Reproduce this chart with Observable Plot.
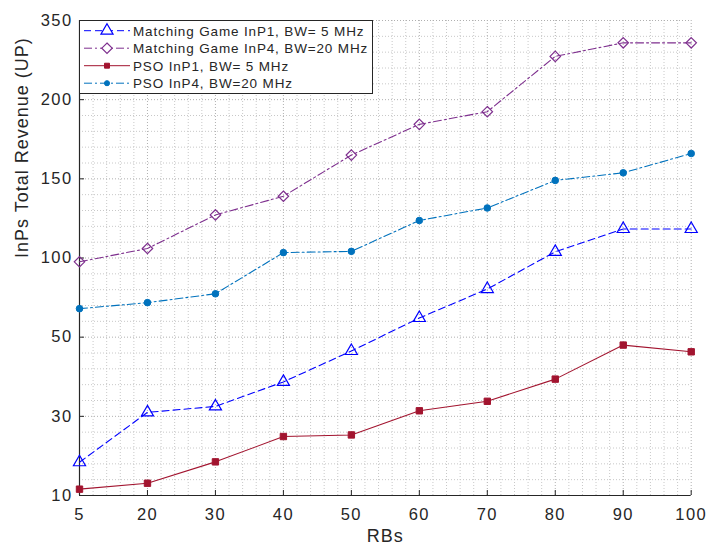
<!DOCTYPE html>
<html>
<head>
<meta charset="utf-8">
<script src="https://cdn.jsdelivr.net/npm/d3@7"></script>
<script src="https://cdn.jsdelivr.net/npm/@observablehq/plot@0.6"></script>
<style>
  body { margin: 0; background: #fff; }
  #chart { position: relative; width: 706px; height: 545px; }
  #legend { position: absolute; left: 79px; top: 20px; }
</style>
</head>
<body>
<div id="chart"></div>
<script>
// ---- data ----
const rbs = [5, 20, 30, 40, 50, 60, 70, 80, 90, 100];
const mgInP1 = [18.4, 31.0, 32.5, 38.7, 46.5, 62.1, 80.4, 103.9, 118.3, 118.3];
const mgInP4 = [97.6, 106, 127.2, 139, 165, 184.4, 192.4, 282, 307.7, 307.7];
const psoInP1 = [11.6, 13.1, 18.5, 24.9, 25.3, 31.4, 33.8, 39.4, 48, 46.3];
const psoInP4 = [68, 71.8, 77.4, 103.4, 104.2, 123.7, 131.6, 149, 153.8, 166];
const seriesNames = [
  "Matching Game InP1, BW= 5 MHz",
  "Matching Game InP4, BW=20 MHz",
  "PSO InP1, BW= 5 MHz",
  "PSO InP4, BW=20 MHz"
];
const yTicks = [10, 30, 50, 100, 150, 200, 350];
const xTicks = rbs;
const xLabel = "RBs";
const yLabel = "InPs Total Revenue (UP)";

// ---- styles ----
const styles = [
  {color: "#0000ff", dash: "7,4", symbol: "triangle", fill: "none", r: 4.5, sw: 1.2},
  {color: "#7e2f8e", dash: "8,3,2,3", symbol: "diamond2", fill: "none", r: 4.7, sw: 1.2},
  {color: "#a2142f", dash: null, symbol: "square", fill: "#a2142f", r: 3.6, sw: 1},
  {color: "#0072bd", dash: "8,3,2,3", symbol: "circle", fill: "#0072bd", r: 3.3, sw: 1}
];
const valuesList = [mgInP1, mgInP4, psoInP1, psoInP4];

const W = 706, H = 545;
const mL = 79, mR = 15.3, mT = 20, mB = 50;
const xRange = xTicks.map((_, i) => mL + i * (W - mL - mR) / (xTicks.length - 1));
const yRange = yTicks.map((_, i) => (H - mB) - i * (H - mB - mT) / (yTicks.length - 1));

function minors(t) {
  const out = [];
  for (let i = 0; i < t.length - 1; i++)
    for (let k = 1; k < 5; k++) out.push(t[i] + (t[i + 1] - t[i]) * k / 5);
  return out;
}

const rows = seriesNames.flatMap((name, s) =>
  rbs.map((rb, i) => ({series: name, rb, v: valuesList[s][i]})));

const seriesMarks = seriesNames.flatMap((name, s) => {
  const st = styles[s];
  const data = rows.filter(d => d.series === name);
  return [
    Plot.line(data, {x: "rb", y: "v", stroke: st.color, strokeWidth: 1.1, strokeDasharray: st.dash}),
    Plot.dot(data, {x: "rb", y: "v", symbol: () => st.symbol, r: st.r, stroke: st.color,
      fill: st.fill, strokeWidth: st.sw})
  ];
});

const ink = "#262626";
const chart = Plot.plot({
  width: W, height: H,
  marginLeft: mL, marginRight: mR, marginTop: mT, marginBottom: mB,
  style: {fontFamily: "'Liberation Sans', Arial, sans-serif", background: "#fff", color: ink},
  x: {type: "linear", domain: xTicks, range: xRange},
  y: {type: "linear", domain: yTicks, range: yRange},
  marks: [
    Plot.gridX(minors(xTicks), {stroke: "#c8c8c8", strokeOpacity: 1, strokeDasharray: "1,2"}),
    Plot.gridY(minors(yTicks), {stroke: "#c8c8c8", strokeOpacity: 1, strokeDasharray: "1,2"}),
    Plot.gridX(xTicks, {stroke: "#b0b0b0", strokeOpacity: 1, strokeDasharray: "1,2"}),
    Plot.gridY(yTicks, {stroke: "#b0b0b0", strokeOpacity: 1, strokeDasharray: "1,2"}),
    Plot.axisX(xTicks, {tickSize: 0, tickPadding: 13, fontSize: 16.5, tickFormat: d => String(d), label: null, fill: ink}),
    Plot.axisY(yTicks, {tickSize: 0, tickPadding: 7, fontSize: 16.5, tickFormat: d => String(d), label: null, fill: ink}),
    Plot.axisX(xTicks, {tickSize: -5, tickFormat: () => "", label: null, stroke: ink}),
    Plot.axisY(yTicks, {tickSize: -5, tickFormat: () => "", label: null, stroke: ink}),
    Plot.ruleY([yTicks[0]], {stroke: ink, strokeWidth: 1.2}),
    Plot.ruleX([xTicks[0]], {stroke: ink, strokeWidth: 1.2}),
    ...seriesMarks,
    Plot.text([xLabel], {frameAnchor: "bottom", dy: 46, fontSize: 18, fill: ink}),
    Plot.text([yLabel], {frameAnchor: "left", dx: -57, rotate: -90, fontSize: 18, fill: ink})
  ]
});
chart.style.letterSpacing = "1.4px";
chart.querySelectorAll("text").forEach(t => {
  if (t.textContent === yLabel || t.textContent === xLabel) t.style.letterSpacing = "1px";
});
document.getElementById("chart").appendChild(chart);

// ---- legend ----
const lw = 294, lh = 74;
const leg = d3.create("svg").attr("id", "legend").attr("width", lw).attr("height", lh)
  .style("font-family", "'Liberation Sans', Arial, sans-serif");
leg.append("rect").attr("x", 0.5).attr("y", 0.5).attr("width", lw - 1).attr("height", lh - 1)
  .attr("fill", "#fff").attr("stroke", ink).attr("stroke-width", 1);
const symMap = {triangle: d3.symbolTriangle, diamond2: d3.symbolDiamond2, square: d3.symbolSquare, circle: d3.symbolCircle};
seriesNames.forEach((name, s) => {
  const st = styles[s];
  const cy = 10.7 + s * 17.5;
  const g = leg.append("g");
  g.append("line").attr("x1", 5).attr("x2", 51).attr("y1", cy).attr("y2", cy)
    .attr("stroke", st.color).attr("stroke-width", 1).attr("stroke-dasharray", st.dash);
  g.append("path").attr("transform", `translate(28,${cy})`)
    .attr("d", d3.symbol(symMap[st.symbol], Math.PI * st.r * st.r * (s < 2 ? 1 : 0.6))())
    .attr("fill", st.fill === "none" ? "#fff" : st.fill).attr("stroke", st.color).attr("stroke-width", st.sw);
  g.append("text").attr("x", 54).attr("y", cy).attr("dy", "0.36em")
    .attr("font-size", 13.5).attr("letter-spacing", "0.85px").attr("fill", ink).text(name);
});
document.getElementById("chart").appendChild(leg.node());
</script>
</body>
</html>
